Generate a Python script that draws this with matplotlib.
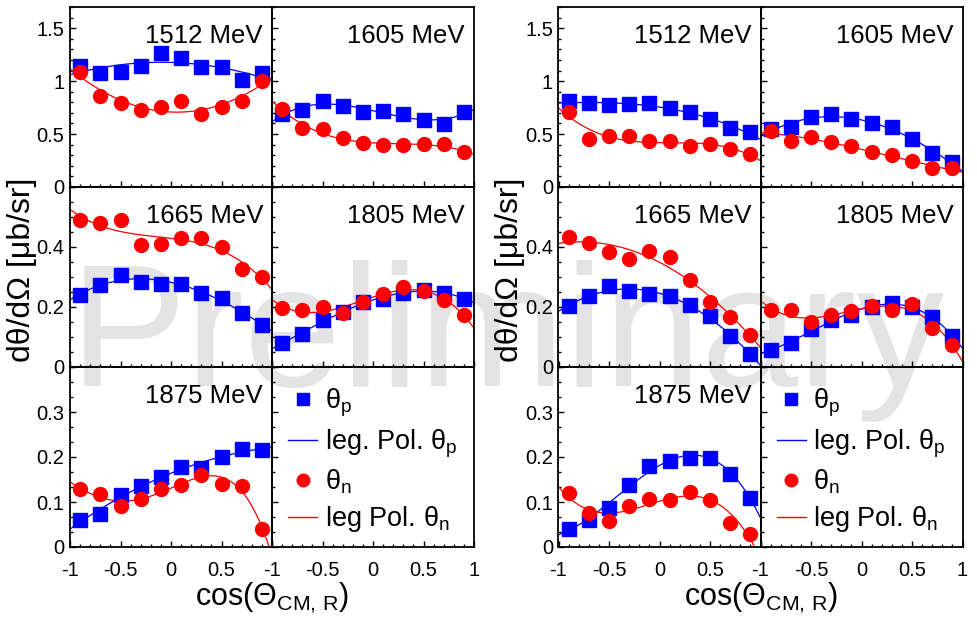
import numpy as np
import matplotlib
matplotlib.use("Agg")
import matplotlib.pyplot as plt
from matplotlib.ticker import MultipleLocator, FuncFormatter
from matplotlib.lines import Line2D
from numpy.polynomial import Legendre

plt.rcParams['font.family'] = ['Liberation Sans', 'DejaVu Sans']
plt.rcParams['mathtext.fontset'] = 'custom'
plt.rcParams['mathtext.rm'] = 'Liberation Sans'
plt.rcParams['mathtext.it'] = 'Liberation Sans:italic'

# bin centres in cos(theta_CM,R)
cos_bins = [-0.9, -0.7, -0.5, -0.3, -0.1, 0.1, 0.3, 0.5, 0.7, 0.9]
energies = ["1512 MeV", "1605 MeV", "1665 MeV", "1805 MeV", "1875 MeV"]

# left block
p_1512_a = [1.144, 1.075, 1.09, 1.14, 1.264, 1.223, 1.135, 1.135, 1.012, 1.072]
n_1512_a = [1.09, 0.861, 0.789, 0.726, 0.757, 0.808, 0.689, 0.751, 0.814, 1.003]
p_1605_a = [0.689, 0.729, 0.808, 0.767, 0.710, 0.720, 0.694, 0.632, 0.594, 0.713]
n_1605_a = [0.736, 0.553, 0.547, 0.462, 0.411, 0.399, 0.396, 0.406, 0.406, 0.326]
p_1665_a = [0.239, 0.275, 0.306, 0.283, 0.278, 0.278, 0.248, 0.231, 0.180, 0.141]
n_1665_a = [0.491, 0.481, 0.489, 0.406, 0.409, 0.431, 0.431, 0.400, 0.328, 0.300]
p_1805_a = [0.081, 0.109, 0.156, 0.183, 0.217, 0.226, 0.247, 0.256, 0.248, 0.228]
n_1805_a = [0.198, 0.189, 0.200, 0.181, 0.217, 0.245, 0.267, 0.252, 0.225, 0.172]
p_1875_a = [0.060, 0.073, 0.116, 0.136, 0.156, 0.178, 0.176, 0.201, 0.218, 0.216]
n_1875_a = [0.129, 0.118, 0.092, 0.106, 0.130, 0.138, 0.160, 0.141, 0.136, 0.041]

# right block
p_1512_b = [0.808, 0.789, 0.776, 0.783, 0.792, 0.745, 0.704, 0.642, 0.553, 0.515]
n_1512_b = [0.713, 0.453, 0.484, 0.477, 0.437, 0.430, 0.383, 0.406, 0.358, 0.311]
p_1605_b = [0.547, 0.562, 0.657, 0.689, 0.642, 0.604, 0.562, 0.453, 0.321, 0.232]
n_1605_b = [0.531, 0.430, 0.475, 0.421, 0.390, 0.326, 0.302, 0.242, 0.175, 0.175]
p_1665_b = [0.202, 0.237, 0.269, 0.253, 0.242, 0.236, 0.208, 0.169, 0.103, 0.042]
n_1665_b = [0.433, 0.415, 0.383, 0.359, 0.387, 0.367, 0.291, 0.217, 0.167, 0.106]
p_1805_b = [0.056, 0.081, 0.126, 0.158, 0.172, 0.200, 0.213, 0.200, 0.167, 0.102]
n_1805_b = [0.189, 0.189, 0.150, 0.172, 0.187, 0.202, 0.191, 0.211, 0.130, 0.075]
p_1875_b = [0.041, 0.061, 0.087, 0.138, 0.180, 0.192, 0.198, 0.198, 0.162, 0.110]
n_1875_b = [0.119, 0.075, 0.058, 0.092, 0.106, 0.104, 0.122, 0.104, 0.053, 0.029]

blocks = [
    [(p_1512_a, n_1512_a), (p_1605_a, n_1605_a), (p_1665_a, n_1665_a),
     (p_1805_a, n_1805_a), (p_1875_a, n_1875_a)],
    [(p_1512_b, n_1512_b), (p_1605_b, n_1605_b), (p_1665_b, n_1665_b),
     (p_1805_b, n_1805_b), (p_1875_b, n_1875_b)],
]
# legendre degree of the fit per panel (proton, neutron)
fit_deg = [
    [(2, 2), (3, 3), (3, 3), (3, 3), (3, 4)],
    [(3, 3), (3, 3), (3, 2), (3, 3), (3, 3)],
]

row_ylim = [1.7, 0.6, 0.4]
row_major = [[0, 0.5, 1, 1.5], [0, 0.2, 0.4], [0, 0.1, 0.2, 0.3]]
row_minor = [0.1, 0.05, 0.1 / 3]

fig = plt.figure(figsize=(9.78, 6.17), dpi=100)

W, H = 978.0, 617.0
col_w = 202 / W
row_h = 180 / H
block_x0 = [70 / W, 558.5 / W]
row_top = [7, 187, 367]

fmt = FuncFormatter(lambda v, p: "%g" % round(v, 3))
xs = np.linspace(-1, 1, 300)

for b in range(2):
    for r in range(3):
        for c in range(2):
            k = r * 2 + c
            x0 = block_x0[b] + c * col_w
            y0 = (H - row_top[r] - 180) / H
            ax = fig.add_axes([x0, y0, col_w, row_h])
            ax.set_facecolor('none')
            ax.set_xlim(-1, 1)
            ax.set_ylim(0, row_ylim[r])
            ax.xaxis.set_major_locator(MultipleLocator(0.5))
            ax.xaxis.set_minor_locator(MultipleLocator(0.1))
            ax.set_yticks(row_major[r])
            ax.yaxis.set_minor_locator(MultipleLocator(row_minor[r]))
            ax.tick_params(which='both', direction='in', top=False, right=False,
                           labelsize=14.5, width=1)
            ax.tick_params(which='major', length=4.5)
            ax.tick_params(which='minor', length=2.5)
            ax.tick_params(axis='x', pad=10)
            ax.tick_params(axis='y', pad=4)
            for s in ax.spines.values():
                s.set_linewidth(1.3)
            ax.yaxis.set_major_formatter(fmt)
            ax.xaxis.set_major_formatter(fmt)
            if c == 1:
                ax.tick_params(labelleft=False)
            if r < 2:
                ax.tick_params(labelbottom=False)
            elif c == 0:
                ax.set_xticks([-1, -0.5, 0, 0.5, 1])
                ax.set_xticklabels(["-1", "-0.5", "0", "0.5", ""])
            else:
                ax.set_xticks([-1, -0.5, 0, 0.5, 1])
                ax.set_xticklabels(["-1", "-0.5", "0", "0.5", "1"])

            if k == 5:
                handles = [
                    Line2D([], [], ls='none', marker='s', ms=9, color='blue'),
                    Line2D([], [], lw=1.0, color='blue'),
                    Line2D([], [], ls='none', marker='o', ms=9, color='red'),
                    Line2D([], [], lw=1.0, color='red'),
                ]
                labels = [r"θ$_{\mathrm{p}}$", r"leg. Pol. θ$_{\mathrm{p}}$",
                          r"θ$_{\mathrm{n}}$", r"leg Pol. θ$_{\mathrm{n}}$"]
                ax.legend(handles, labels, loc='upper left',
                          bbox_to_anchor=(0.08, 0.89), frameon=False,
                          fontsize=19.5, handlelength=1.07, handletextpad=0.28,
                          labelspacing=0.3, borderpad=0, borderaxespad=0)
                continue

            p_vals, n_vals = blocks[b][k]
            dp, dn = fit_deg[b][k]
            for vals, col, mk, ms, deg in [(p_vals, 'blue', 's', 10.5, dp),
                                           (n_vals, 'red', 'o', 10, dn)]:
                fit = Legendre.fit(cos_bins, vals, deg, domain=[-1, 1])
                ax.plot(xs, fit(xs), color=col, lw=0.9, zorder=2)
                ax.plot(cos_bins, vals, ls='none', marker=mk, ms=ms,
                        color=col, mec=col, zorder=3, clip_on=False)
            ax.text(0.955, 0.80, energies[k], transform=ax.transAxes,
                    ha='right', va='baseline', fontsize=18.5)

    # axis titles for each block
    cx = block_x0[b] + col_w
    fig.text(cx, 12 / H, r"cos(Θ$_{\mathrm{CM,\,R}}$)", ha='center',
             va='baseline', fontsize=22)
    fig.text(block_x0[b] - 48 / W, (H - 270) / H, "dθ/dΩ [μb/sr]",
             rotation=90, ha='center', va='center', fontsize=23)

fig.text(507 / W, (H - 386) / H, "Preliminary", ha='center', va='baseline',
         fontsize=126, color='#e3e3e3', zorder=-1)

fig.savefig("out.png", dpi=100)
